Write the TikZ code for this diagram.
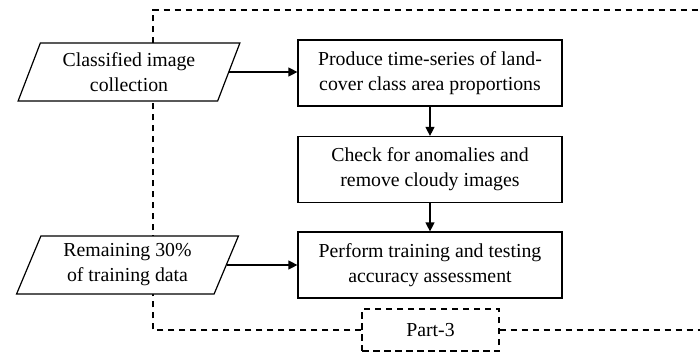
\documentclass[tikz,border=0pt]{standalone}
\usepackage{fontspec}
\setmainfont{Liberation Serif}
\usetikzlibrary{shapes.geometric,arrows.meta}
\begin{document}
\begin{tikzpicture}[x=1pt,y=1pt,
  every node/.style={font=\fontsize{19.8}{25}\selectfont, align=center, line width=1.2pt},
  procbox/.style={draw, fill=white, minimum width=264pt, minimum height=66pt, inner sep=2pt},
  databox/.style={draw, fill=white, trapezium, trapezium left angle=67, trapezium right angle=113,
     trapezium stretches=true, minimum width=222pt, minimum height=58pt, inner sep=0pt},
  partbox/.style={draw, dash pattern=on 6.5pt off 4.5pt, fill=white, minimum width=137pt, minimum height=42pt},
  frame/.style={draw, line width=1.2pt, dash pattern=on 6.5pt off 4.5pt},
  arr/.style={draw, line width=1.2pt, -{Triangle[length=9pt,width=9pt]}}]
\useasboundingbox (0,0) rectangle (700,-351);
\coordinate (ftl) at (153,-10);
\coordinate (ftr) at (720,-10);
\coordinate (fbr) at (720,-330);
\node[partbox] (p3) at (430.5,-330) {Part-3};
\path[frame] (p3.west) -| (ftl) -- (ftr);
\path[frame] (p3.east) -- (fbr);
\node[databox] (c1) at (129,-72) {Classified image\\collection};
\node[databox] (c2) at (127.5,-265) {Remaining 30\%\\of training data};
\node[procbox] (b1) at (430,-73) {Produce time-series of land-\\cover class area proportions};
\node[procbox] (b2) at (430,-169.5) {Check for anomalies and\\remove cloudy images};
\node[procbox] (b3) at (430,-265) {Perform training and testing\\accuracy assessment};
\path[arr] (c1.east) -- (b1.west |- c1.east);
\path[arr] (c2.east) -- (b3.west |- c2.east);
\path[arr] (b1) -- (b2);
\path[arr] (b2) -- (b3);
\end{tikzpicture}
\end{document}
